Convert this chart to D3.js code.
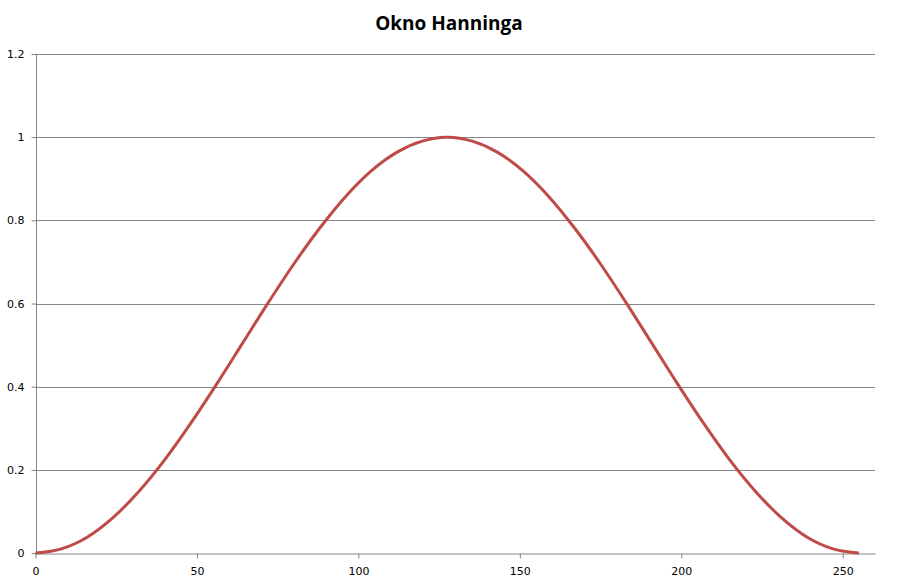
<!DOCTYPE html>
<html>
<head>
<meta charset="utf-8">
<script src="https://cdn.jsdelivr.net/npm/d3@7"></script>
<style>
	body { margin: 0; background: #fff; }
	svg { display: block; }
</style>
</head>
<body>
<svg id="chart" width="898" height="584"></svg>
<script>
	//sample index and window value
var sampleIdx = [0, 8, 16, 24, 32, 40, 48, 56, 64, 72, 80, 88, 96, 104, 112, 120, 127,
	128, 135, 143, 151, 159, 167, 175, 183, 191, 199, 207, 215, 223, 231, 239, 247, 255];
var windowVal = [0, 0.010, 0.038, 0.085, 0.148, 0.224, 0.311, 0.405, 0.503, 0.601, 0.695, 0.781, 0.857, 0.919, 0.964, 0.991, 1.000,
	1.000, 0.991, 0.964, 0.919, 0.857, 0.781, 0.695, 0.601, 0.503, 0.405, 0.311, 0.224, 0.148, 0.085, 0.038, 0.010, 0];
var xTicks = [0, 50, 100, 150, 200, 250];
var yTicks = [0, 0.2, 0.4, 0.6, 0.8, 1, 1.2];
var chartTitle = 'Okno Hanninga';

var svg = d3.select('#chart');
var gridColor = '#868686';

var x = d3.scaleLinear().domain([0, 260]).range([35.5, 875]);
var y = d3.scaleLinear().domain([0, 1.2]).range([553, 54]);

	//title
svg.append('text')
	.attr('x', 449)
	.attr('y', 30)
	.attr('text-anchor', 'middle')
	.style('font-family', '"Open Sans", sans-serif')
	.style('font-weight', 'bold')
	.style('font-size', '19px')
	.text(chartTitle);

	//horizontal grid lines
svg.append('g')
	.selectAll('line')
	.data(yTicks.slice(1))
	.enter().append('line')
	.attr('x1', x(0)).attr('x2', x(260))
	.attr('y1', function(d) { return Math.round(y(d)) + 0.5; })
	.attr('y2', function(d) { return Math.round(y(d)) + 0.5; })
	.attr('stroke', gridColor);

	//axes
var yAxis = svg.append('g')
	.attr('transform', 'translate(' + (Math.round(x(0)) + 0.5) + ',0)')
	.call(d3.axisLeft(y).tickValues(yTicks).tickSize(5).tickPadding(7)
		.tickFormat(function(d) { return d3.format('')(+d.toFixed(1)); }));

var xAxis = svg.append('g')
	.attr('transform', 'translate(0,' + (Math.round(y(0)) + 0.5) + ')')
	.call(d3.axisBottom(x).tickValues(xTicks).tickSize(5).tickPadding(9).tickSizeOuter(0));

[xAxis, yAxis].forEach(function(ax) {
	ax.select('.domain').attr('stroke', gridColor);
	ax.selectAll('.tick line').attr('stroke', gridColor);
	ax.selectAll('.tick text')
		.style('font-family', '"DejaVu Sans", Verdana, sans-serif')
		.style('font-size', '11px')
		.attr('fill', '#000');
});
yAxis.select('.domain').attr('d', 'M0,' + y(1.2) + 'V' + y(0));

	//window curve
var line = d3.line()
	.x(function(d, i) { return x(sampleIdx[i]); })
	.y(function(d) { return y(d); })
	.curve(d3.curveMonotoneX);

svg.append('path')
	.datum(windowVal)
	.attr('d', line)
	.attr('fill', 'none')
	.attr('stroke', '#BE4B48')
	.attr('stroke-width', 3);
</script>
</body>
</html>
